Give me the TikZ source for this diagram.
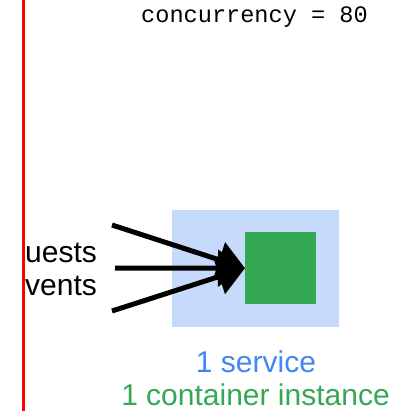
\documentclass[tikz,border=0pt]{standalone}
\usepackage{fontspec}
\setmainfont{Liberation Sans}
\setmonofont{Liberation Mono}
\usetikzlibrary{positioning, arrows.meta}

\definecolor{svcblue}{HTML}{C6DAFC}
\definecolor{gblue}{HTML}{4285F4}
\definecolor{ggreen}{HTML}{34A853}

\begin{document}
\begin{tikzpicture}[
    x=1pt, y=-1pt,
    box/.style={draw=none, inner sep=0pt, anchor=north west},
    label/.style={inner sep=0pt, font=\fontsize{30}{34}\selectfont},
    arrow/.style={-{Triangle[length=27pt, width=36pt]}, line width=5pt}
    ]
    \useasboundingbox (0,0) rectangle (419,411);
    \draw[red, line width=3pt] (23.5,0) -- (23.5,411);

    \node (concurrency) [inner sep=0pt, font=\ttfamily\fontsize{23.6}{26}\selectfont] at (254.5,17) {concurrency = 80};

    \node (service) [box, fill=svcblue, minimum width=167pt, minimum height=117pt] at (172,210) {};
    \node (container) [box, fill=ggreen, minimum width=71pt, minimum height=72pt] at (245,232) {};

    \node (requests) [label, anchor=base west] at (25,262) {uests};
    \node (events) [label, anchor=base west] at (25,295) {vents};

    \coordinate (in1) at (112,225);
    \coordinate (in2) at (115,268);
    \coordinate (in3) at (112,311);
    \draw[arrow] (in1) -- (container.west);
    \draw[arrow] (in2) -- (container.west);
    \draw[arrow] (in3) -- (container.west);

    \node (svclabel) [label, text=gblue, anchor=base] at (256,372) {1 service};
    \node (ctrlabel) [label, text=ggreen, anchor=base] at (255.5,405) {1 container instance};
\end{tikzpicture}
\end{document}
